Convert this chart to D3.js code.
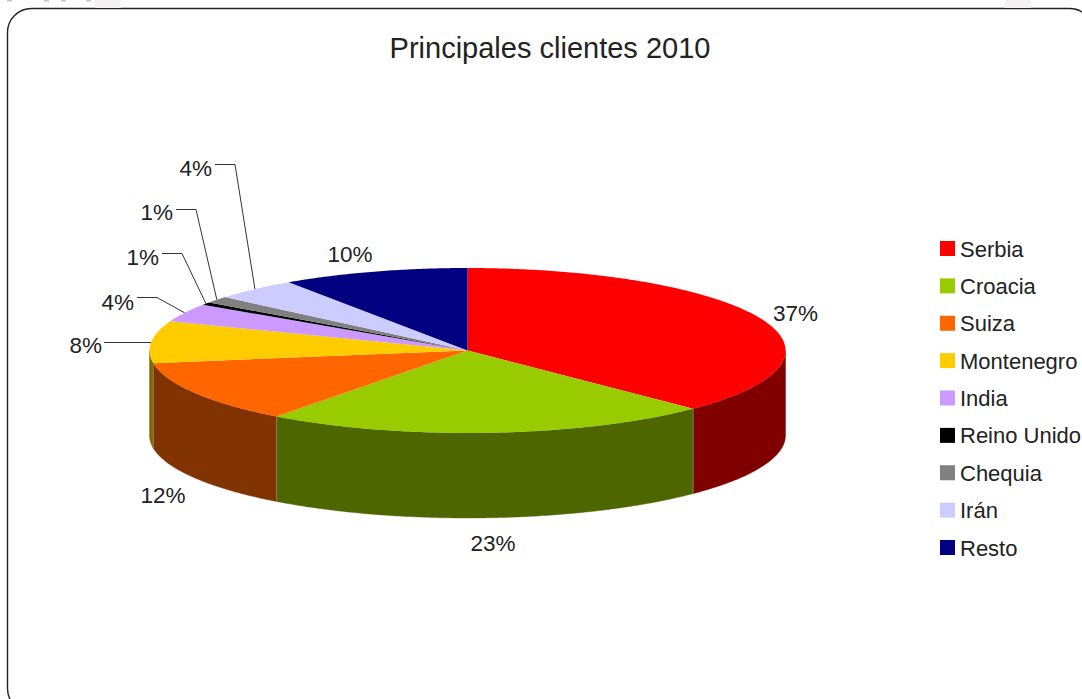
<!DOCTYPE html>
<html lang="es">
<head>
<meta charset="utf-8">
<title>Principales clientes 2010</title>
<script src="https://cdn.jsdelivr.net/npm/d3@7/dist/d3.min.js"></script>
<style>
  html, body { margin: 0; padding: 0; background: #fff; overflow: hidden; }
  svg { display: block; }
  text { font-family: "Liberation Sans", Arial, sans-serif; fill: #222; }
</style>
</head>
<body>
<svg id="chart" width="1082" height="699"></svg>
<script>
// Customer shares for 2010, in percent
const clients = ["Serbia", "Croacia", "Suiza", "Montenegro", "India", "Reino Unido", "Chequia", "Irán", "Resto"];
const shares = [37.45, 22.8, 12.3, 8.2, 3.6, 0.55, 1.3, 4.3, 9.5];

// Top-face and rim colours, one per client
const topColors = ["#ff0000", "#99cc00", "#ff6600", "#ffcc00", "#cc99ff", "#000000", "#808080", "#ccccff", "#000080"];
const sideColors = ["#800000", "#4d6600", "#803300", "#806600", "#664d80", "#000000", "#404040", "#666680", "#000040"];

// Label placement per slice: text anchor point, and the elbow of the leader when there is one
const labelPlacement = [
  { x: 795.5, y: 321, anchor: "middle" },
  { x: 493, y: 551, anchor: "middle" },
  { x: 163, y: 502.5, anchor: "middle" },
  { x: 102, y: 353, anchor: "end", leaderFrom: [104, 342.5], elbow: null },
  { x: 134, y: 310, anchor: "end", leaderFrom: [137, 297.5], elbow: [157, 297.5] },
  { x: 159, y: 264.5, anchor: "end", leaderFrom: [162, 253.5], elbow: [182, 253.5] },
  { x: 173, y: 220, anchor: "end", leaderFrom: [176, 209.5], elbow: [196, 209.5] },
  { x: 212, y: 175.5, anchor: "end", leaderFrom: [215, 164.5], elbow: [235, 164.5] },
  { x: 350, y: 261.5, anchor: "middle" }
];

const svg = d3.select("#chart");

// Rounded frame, running slightly past the right and bottom of the page
svg.append("rect")
  .attr("x", 7.5).attr("y", 8.5)
  .attr("width", 1086).attr("height", 704)
  .attr("rx", 24).attr("ry", 24)
  .attr("fill", "#fff")
  .attr("stroke", "#222")
  .attr("stroke-width", 1.4);

// Pale tabs peeking over the frame
svg.selectAll("rect.tab")
  .data([95, 1005])
  .join("rect")
  .attr("class", "tab")
  .attr("x", d => d).attr("y", 0)
  .attr("width", 26).attr("height", 8)
  .attr("fill", "#f5f1f2");

// Faint marks along the very top edge
svg.selectAll("rect.crumb")
  .data([7, 44, 61, 86])
  .join("rect")
  .attr("class", "crumb")
  .attr("x", d => d).attr("y", 0)
  .attr("width", 5).attr("height", 1.5)
  .attr("fill", "#c4c4c4");

svg.append("text")
  .attr("x", 550).attr("y", 57.5)
  .attr("text-anchor", "middle")
  .attr("font-size", 29)
  .text("Principales clientes 2010");

// Pie geometry: a flattened disc with a vertical rim
const cx = 467.5, cy = 350.5, rx = 318, ry = 82.5, depth = 85;
const px = d3.scaleLinear().domain([-1, 1]).range([cx - rx, cx + rx]);
const py = d3.scaleLinear().domain([-1, 1]).range([cy - ry, cy + ry]);

const slices = d3.pie().value(d => d).sort(null)(shares);

const pointAt = (angle, drop = 0) => [px(Math.sin(angle)), py(-Math.cos(angle)) + drop];
const sampleAngles = (a0, a1) => {
  const n = Math.max(2, Math.ceil((a1 - a0) / 0.01));
  return d3.range(n + 1).map(k => a0 + (a1 - a0) * k / n);
};
const line = d3.line();

// Rim: only the front half of the disc, from 90° to 270° clockwise from the top
const front0 = Math.PI / 2, front1 = Math.PI * 1.5;
const rimSlices = slices
  .map((s, i) => ({ a0: Math.max(s.startAngle, front0), a1: Math.min(s.endAngle, front1), i }))
  .filter(s => s.a1 > s.a0);

svg.append("g").selectAll("path")
  .data(rimSlices)
  .join("path")
  .attr("fill", d => sideColors[d.i])
  .attr("stroke", d => sideColors[d.i])
  .attr("stroke-width", 0.4)
  .attr("d", d => {
    const angles = sampleAngles(d.a0, d.a1);
    const upper = angles.map(a => pointAt(a));
    const lower = angles.slice().reverse().map(a => pointAt(a, depth));
    return line(upper.concat(lower)) + "Z";
  });

// Lighter seams where neighbouring rim pieces meet
svg.append("g").selectAll("line")
  .data(rimSlices.slice(1))
  .join("line")
  .attr("x1", d => pointAt(d.a0)[0]).attr("y1", d => pointAt(d.a0)[1])
  .attr("x2", d => pointAt(d.a0, depth)[0]).attr("y2", d => pointAt(d.a0, depth)[1])
  .attr("stroke", "#8a8a55")
  .attr("stroke-width", 0.8);

// Top face
svg.append("g").selectAll("path")
  .data(slices)
  .join("path")
  .attr("fill", (d, i) => topColors[i])
  .attr("d", d => {
    const rim = sampleAngles(d.startAngle, d.endAngle).map(a => pointAt(a));
    return line([[cx, cy]].concat(rim)) + "Z";
  });

// Leader lines end on the rim at each slice's mid-angle; without an elbow they stay level
const midAngle = s => (s.startAngle + s.endAngle) / 2;
svg.append("g").selectAll("path")
  .data(slices.map((s, i) => ({ s, place: labelPlacement[i] })).filter(d => d.place.leaderFrom))
  .join("path")
  .attr("fill", "none")
  .attr("stroke", "#333")
  .attr("stroke-width", 1)
  .attr("d", d => {
    const end = pointAt(midAngle(d.s));
    return d.place.elbow
      ? line([d.place.leaderFrom, d.place.elbow, end])
      : line([d.place.leaderFrom, [end[0], d.place.leaderFrom[1]]]);
  });

// Percent labels, rounded from the slice values
svg.append("g").selectAll("text")
  .data(shares)
  .join("text")
  .attr("x", (d, i) => labelPlacement[i].x)
  .attr("y", (d, i) => labelPlacement[i].y)
  .attr("text-anchor", (d, i) => labelPlacement[i].anchor)
  .attr("font-size", 22.5)
  .text(d => d3.format(".0f")(d + 1e-9) + "%");

// Legend
const legendY = d3.scalePoint().domain(clients).range([248.5, 547.5]);
const legend = svg.append("g").selectAll("g")
  .data(clients)
  .join("g")
  .attr("transform", d => `translate(940,${legendY(d)})`);
legend.append("rect")
  .attr("x", 0).attr("y", -7.5)
  .attr("width", 15).attr("height", 15)
  .attr("fill", (d, i) => topColors[i]);
legend.append("text")
  .attr("x", 20).attr("y", 8)
  .attr("font-size", 22)
  .text(d => d);
</script>
</body>
</html>
